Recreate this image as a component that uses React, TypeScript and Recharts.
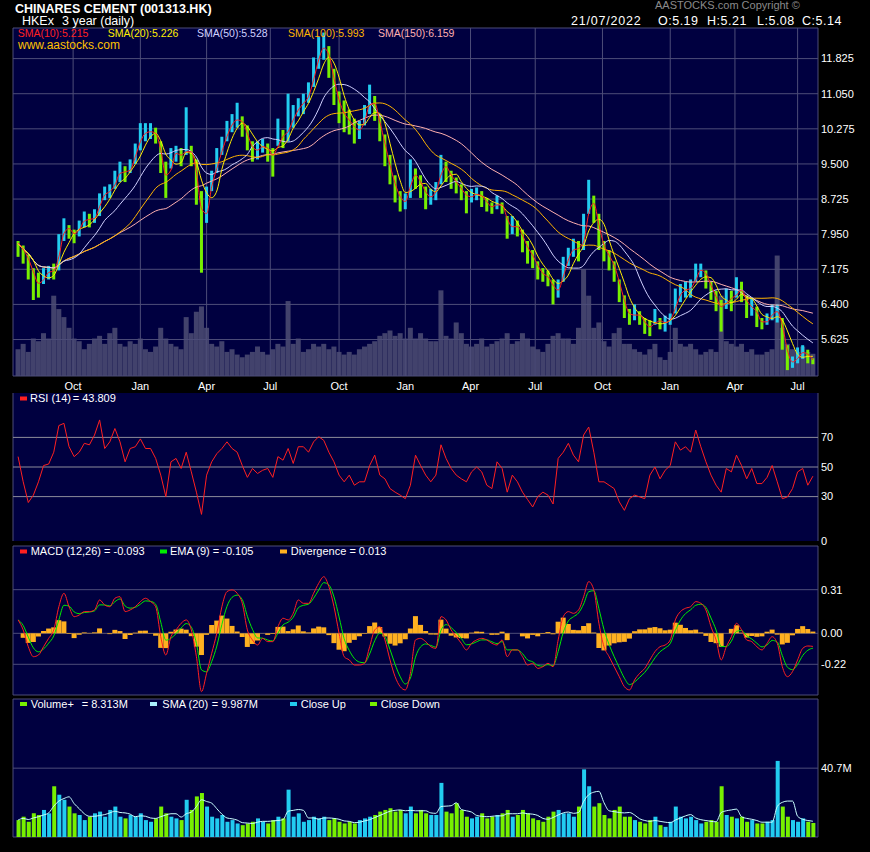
import React from 'react';
import {
  ComposedChart,
  Bar,
  Line,
  XAxis,
  YAxis,
  CartesianGrid,
  Cell,
  ReferenceLine,
} from 'recharts';

const FONT = '"Liberation Sans", Arial, Helvetica, sans-serif';
const NAVY = '#000040';
const GRID = '#4d4d78';
const LEVEL = '#8c8c9a';
const UP = '#22ccf0';
const DOWN = '#77f000';

// weekly samples, week of 22/07/2019 .. 21/07/2022
const CLOSE = [
  7.75, 7.49, 7.34, 6.9, 6.83, 7.05, 7.16, 7.12, 7.78, 8.15,
  8.0, 7.93, 8.15, 8.33, 8.22, 8.37, 8.74, 8.89, 8.89, 9.18,
  9.4, 9.25, 9.47, 9.84, 10.14, 10.21, 10.21, 10.14, 9.48, 9.03,
  9.7, 9.77, 9.62, 9.92, 9.62, 9.03, 8.0, 8.81, 9.18, 9.62,
  9.92, 10.29, 10.43, 10.51, 10.36, 9.99, 9.77, 9.84, 9.92, 9.77,
  9.62, 10.14, 10.07, 10.36, 10.58, 10.8, 10.87, 11.1, 11.61, 11.98,
  12.13, 11.69, 11.1, 10.73, 10.51, 10.43, 10.21, 10.29, 10.58, 11.02,
  10.65, 10.21, 9.7, 9.25, 8.89, 8.67, 8.67, 9.33, 9.18, 9.03,
  8.74, 8.81, 8.96, 9.55, 9.33, 9.18, 9.03, 8.89, 8.74, 8.81,
  8.85, 8.74, 8.59, 8.52, 8.67, 8.52, 8.08, 8.15, 8.08, 7.78,
  7.56, 7.41, 7.12, 7.05, 6.97, 6.68, 6.75, 7.27, 7.49, 7.71,
  7.56, 8.0, 8.81, 8.45, 7.86, 7.56, 7.41, 7.12, 6.68, 6.31,
  6.09, 6.24, 6.09, 5.94, 5.87, 6.09, 5.98, 6.02, 6.09, 6.53,
  6.68, 6.75, 6.75, 7.12, 7.19, 6.97, 6.68, 6.46, 6.24, 6.6,
  6.46, 6.75, 6.68, 6.31, 6.38, 6.09, 5.94, 6.09, 6.24, 6.24,
  5.65, 5.13, 5.13, 5.28, 5.39, 5.21, 5.14,
];

const HIGH = [
  7.8, 7.7, 7.5, 7.2, 7.1, 7.2, 7.25, 7.3, 7.95, 8.3,
  8.15, 8.05, 8.25, 8.45, 8.4, 8.5, 8.85, 9.0, 9.05, 9.35,
  9.55, 9.45, 9.6, 9.95, 10.4, 10.4, 10.4, 10.3, 10.0, 9.55,
  9.85, 9.9, 9.85, 10.75, 9.9, 9.6, 8.9, 9.0, 9.35, 9.85,
  10.1, 10.45, 10.6, 10.85, 10.55, 10.35, 10.0, 10.0, 10.05, 9.95,
  9.85, 10.5, 10.25, 11.05, 10.8, 10.95, 11.05, 11.3, 11.85, 12.3,
  12.4, 12.1, 11.6, 11.1, 10.9, 10.7, 10.5, 10.45, 10.8, 11.25,
  11.0, 10.6, 10.15, 9.7, 9.25, 8.9, 8.85, 9.6, 9.4, 9.25,
  9.0, 8.95, 9.1, 9.7, 9.55, 9.35, 9.2, 9.05, 8.9, 8.95,
  8.98, 8.9, 8.75, 8.65, 8.8, 8.65, 8.35, 8.35, 8.25, 8.05,
  7.8, 7.6, 7.35, 7.2, 7.15, 6.95, 6.95, 7.45, 7.65, 7.85,
  7.8, 8.4, 9.15, 8.8, 8.4, 7.8, 7.6, 7.35, 6.95, 6.6,
  6.3, 6.4, 6.25, 6.1, 6.05, 6.3, 6.1, 6.15, 6.2, 6.75,
  6.85, 6.9, 6.95, 7.3, 7.3, 7.15, 6.9, 6.7, 6.5, 6.75,
  6.7, 7.0, 6.9, 6.6, 6.55, 6.35, 6.1, 6.2, 6.4, 6.4,
  6.1, 5.5, 5.25, 5.45, 5.5, 5.4, 5.21,
];

const LOW = [
  7.45, 7.3, 6.95, 6.5, 6.55, 6.85, 6.95, 6.95, 7.15, 7.8,
  7.85, 7.75, 7.9, 8.1, 8.1, 8.2, 8.35, 8.7, 8.75, 8.95,
  9.1, 9.1, 9.3, 9.5, 9.8, 10.0, 10.05, 9.95, 9.3, 8.75,
  9.4, 9.55, 9.45, 9.7, 9.45, 8.6, 7.1, 8.2, 8.9, 9.3,
  9.7, 10.0, 10.2, 10.3, 10.1, 9.8, 9.55, 9.6, 9.75, 9.55,
  9.22, 9.9, 9.85, 10.0, 10.3, 10.55, 10.6, 10.85, 11.2, 11.6,
  11.8, 11.4, 10.8, 10.4, 10.2, 10.15, 9.95, 10.05, 10.35, 10.6,
  10.45, 10.0, 9.45, 9.05, 8.65, 8.45, 8.5, 8.75, 8.95, 8.75,
  8.5, 8.6, 8.7, 9.05, 9.1, 8.95, 8.85, 8.7, 8.41, 8.65,
  8.7, 8.55, 8.45, 8.4, 8.5, 8.4, 7.85, 7.95, 7.9, 7.55,
  7.3, 7.2, 6.95, 6.9, 6.8, 6.4, 6.55, 6.9, 7.25, 7.45,
  7.35, 7.6, 8.4, 8.2, 7.6, 7.35, 7.15, 6.9, 6.45, 6.1,
  5.95, 6.05, 5.95, 5.75, 5.7, 5.95, 5.85, 5.8, 5.95, 6.2,
  6.45, 6.55, 6.55, 6.9, 7.0, 6.75, 6.5, 6.25, 5.8, 6.3,
  6.25, 6.55, 6.45, 6.1, 6.15, 5.9, 5.85, 5.95, 6.05, 6.0,
  5.4, 4.95, 5.0, 5.1, 5.2, 5.1, 5.08,
];

// typical daily volume of the week, millions of shares
const VOLUME = [
  10, 12, 9, 14, 13, 16, 14, 30, 25, 22,
  18, 14, 13, 10, 12, 14, 15, 12, 16, 18,
  12, 11, 13, 12, 14, 10, 9, 11, 18, 14,
  12, 11, 10, 22, 16, 24, 26, 18, 12, 11,
  13, 9, 10, 8, 7, 8, 9, 11, 9, 8,
  10, 12, 11, 28, 12, 14, 9, 10, 12, 11,
  12, 10, 11, 9, 8, 9, 8, 10, 11, 12,
  13, 15, 16, 17, 15, 16, 14, 18, 14, 16,
  14, 13, 13, 32, 15, 14, 20, 16, 12, 11,
  12, 14, 11, 12, 13, 14, 16, 12, 13, 16,
  14, 11, 10, 9, 12, 15, 16, 14, 14, 12,
  18, 40, 30, 18, 20, 13, 11, 16, 18, 12,
  12, 10, 9, 8, 10, 12, 7, 6, 9, 18,
  12, 11, 12, 10, 8, 9, 10, 9, 30, 13,
  12, 11, 12, 9, 10, 8, 8, 9, 10, 45,
  18, 12, 10, 9, 11, 9, 8.3,
];

const RSI = [
  57, 40, 26, 31, 40, 51, 52, 60, 78, 79.5,
  63.7, 57, 60, 66, 65, 71.6, 81.8, 62.5, 67, 76,
  67, 53.5, 62.5, 63.7, 69, 62.5, 62.5, 55.8, 44.5, 30,
  53.5, 55.8, 49, 60, 46.7, 33, 18, 44.5, 53.5, 59,
  62.5, 67, 62.5, 60, 51, 43, 49, 45.6, 47.8, 49,
  43, 57, 54.6, 62.5, 52.4, 63.7, 63.7, 60, 67, 70.5,
  68, 60, 53.5, 44.5, 40, 44.5, 37.7, 40, 40, 51,
  58, 44.5, 42, 35.4, 33, 31, 28.6, 37.7, 58, 51,
  44.5, 40, 44.5, 65, 55.8, 49, 44.5, 42, 40, 46.7,
  50, 46.7, 37.7, 35.4, 53.5, 49, 33, 44.5, 40, 33,
  28, 23, 30, 33, 31, 25, 55.8, 60, 66, 58,
  53.5, 71.6, 77, 60, 40, 40, 37.7, 35.4, 26.4, 20.7,
  28.6, 31, 29.8, 28.6, 44.5, 50, 42, 47.8, 51, 67,
  61.4, 63.7, 60, 75, 63.7, 53.5, 44.5, 37.7, 33, 49,
  46.7, 58, 51, 42, 49, 38.8, 38.8, 43, 51, 40,
  28.6, 29.8, 35.4, 46.7, 49, 37.7, 43.8,
];

const MACD = [
  0.095, 0.024, -0.095, -0.166, -0.154, -0.095, -0.036, 0.024, 0.189, 0.284,
  0.189, 0.118, 0.13, 0.154, 0.154, 0.166, 0.237, 0.201, 0.189, 0.249,
  0.26, 0.154, 0.166, 0.189, 0.225, 0.249, 0.225, 0.189, -0.024, -0.154,
  -0.024, 0.024, 0.071, 0.095, 0.024, -0.166, -0.414, -0.284, -0.142, 0,
  0.189, 0.296, 0.308, 0.284, 0.213, 0.024, -0.047, -0.083, -0.036, -0.059,
  -0.059, 0.047, 0.107, 0.095, 0.142, 0.237, 0.213, 0.213, 0.284, 0.355,
  0.402, 0.331, 0.189, 0, -0.166, -0.189, -0.225, -0.225, -0.213, -0.095,
  0.024, 0.047, -0.047, -0.189, -0.308, -0.379, -0.402, -0.284, -0.047, -0.036,
  -0.059, -0.095, -0.107, 0.118, 0.095, 0.024, -0.024, -0.071, -0.118, -0.071,
  -0.047, -0.036, -0.047, -0.071, -0.083, -0.047, -0.166, -0.118, -0.118, -0.166,
  -0.225, -0.213, -0.249, -0.237, -0.213, -0.237, -0.047, 0.118, 0.154, 0.142,
  0.166, 0.26, 0.367, 0.308, 0.071, -0.095, -0.166, -0.237, -0.308, -0.379,
  -0.402, -0.331, -0.284, -0.249, -0.189, -0.13, -0.095, -0.083, -0.047, 0.095,
  0.154, 0.178, 0.189, 0.225, 0.213, 0.166, 0.047, -0.047, -0.189, -0.095,
  -0.024, 0.071, 0.024, -0.047, -0.059, -0.095, -0.118, -0.071, -0.024, -0.071,
  -0.237, -0.308, -0.272, -0.189, -0.107, -0.09, -0.093,
];

const TICK_POS = [10.8, 24, 37, 49.5, 63, 76, 88.8, 101.5, 114.7, 128, 140.7, 153];
const TICK_LABELS = ['Oct', 'Jan', 'Apr', 'Jul', 'Oct', 'Jan', 'Apr', 'Jul', 'Oct', 'Jan', 'Apr', 'Jul'];
const PRICE_TICKS = [5.625, 6.4, 7.175, 7.95, 8.725, 9.5, 10.275, 11.05, 11.825];
const RSI_TICKS = [0, 30, 50, 70];
const MACD_TICKS = [-0.22, 0, 0.31];
const VOL_TICKS = [40.7];

const sma = (src: number[], n: number) =>
  src.map((_, i) => {
    const part = src.slice(Math.max(0, i - n + 1), i + 1);
    return part.reduce((a, b) => a + b, 0) / part.length;
  });

const ema = (src: number[], k: number) => {
  const out: number[] = [];
  src.forEach((v, i) => out.push(i === 0 ? v : out[i - 1] + k * (v - out[i - 1])));
  return out;
};

// daily periods expressed in weeks
const s10 = sma(CLOSE, 2);
const s20 = sma(CLOSE, 4);
const s50 = sma(CLOSE, 10);
const s100 = sma(CLOSE, 20);
const s150 = sma(CLOSE, 30);
const signal = ema(MACD, 0.55);
const volAvg = sma(VOLUME, 4);

const data = CLOSE.map((c, i) => ({
  i,
  range: [LOW[i], HIGH[i]],
  up: i > 0 && c >= CLOSE[i - 1],
  vol: VOLUME[i],
  volAvg: volAvg[i],
  s10: s10[i],
  s20: s20[i],
  s50: s50[i],
  s100: s100[i],
  s150: s150[i],
  rsi: RSI[i],
  macd: MACD[i],
  ema: signal[i],
  div: MACD[i] - signal[i],
}));

const W = 870;
const MARGIN_X = { left: 13, right: 0 };

const XTick = (p: any) => {
  const idx = TICK_POS.indexOf(p.payload.value);
  return (
    <text x={p.x} y={p.y + 14} fill="#fff" fontSize={11} fontFamily={FONT} textAnchor="middle">
      {TICK_LABELS[idx]}
    </text>
  );
};

const yTick = (fmt: (v: number) => string) => (p: any) => (
  <text x={p.x + 3} y={p.y} dy="0.35em" fill="#fff" fontSize={11} fontFamily={FONT}>
    {fmt(p.payload.value)}
  </text>
);

const hiddenX = (
  <XAxis
    type="number"
    dataKey="i"
    domain={[-1, 157]}
    ticks={TICK_POS}
    interval={0}
    height={0}
    tick={false}
    tickSize={0}
    axisLine={false}
    tickLine={false}
  />
);

const Marker = ({ x, y, color }: { x: number; y: number; color: string }) => (
  <rect x={x} y={y} width={7} height={4} fill={color} />
);

const T = ({ x, y, color = '#fff', size = 11, bold = false, spacing = 0, children }: any) => (
  <text
    x={x}
    y={y}
    fill={color}
    fontSize={size}
    fontFamily={FONT}
    fontWeight={bold ? 'bold' : 'normal'}
    letterSpacing={spacing}
  >
    {children}
  </text>
);

export default function App() {
  return (
    <div style={{ position: 'fixed', left: 0, top: 0, width: W, height: 852, background: '#000', overflow: 'hidden' }}>
      {/* price panel: background + shaded volume */}
      <div style={{ position: 'absolute', left: 0, top: 0 }}>
        <ComposedChart width={W} height={393} data={data} margin={{ top: 28, bottom: 0, ...MARGIN_X }}>
          <CartesianGrid fill={NAVY} horizontal={false} vertical={false} />
          <XAxis type="number" dataKey="i" domain={[-1, 157]} ticks={TICK_POS} height={17} tick={false} axisLine={false} tickLine={false} />
          <YAxis orientation="right" width={52} domain={[0, 130]} tick={false} axisLine={false} tickLine={false} />
          <Bar dataKey="vol" fill="#42426c" barSize={5} isAnimationActive={false} />
        </ComposedChart>
      </div>

      {/* price panel: grid, candles, moving averages */}
      <div style={{ position: 'absolute', left: 0, top: 0 }}>
        <ComposedChart width={W} height={393} data={data} margin={{ top: 28, bottom: 0, ...MARGIN_X }}>
          <CartesianGrid stroke={GRID} strokeWidth={1} />
          <XAxis
            type="number"
            dataKey="i"
            domain={[-1, 157]}
            ticks={TICK_POS}
            interval={0}
            height={17}
            tick={<XTick />}
            tickSize={0}
            tickMargin={0}
            axisLine={false}
            tickLine={false}
          />
          <YAxis
            orientation="right"
            width={52}
            domain={[4.82, 12.5]}
            ticks={PRICE_TICKS}
            interval={0}
            tick={yTick((v) => v.toFixed(3))}
            tickSize={0}
            tickMargin={0}
            axisLine={false}
            tickLine={false}
          />
          <Bar dataKey="range" barSize={3} isAnimationActive={false}>
            {data.map((d) => (
              <Cell key={d.i} fill={d.up ? UP : DOWN} />
            ))}
          </Bar>
          <Line dataKey="s150" type="monotone" stroke="#ffb0b0" strokeWidth={1} dot={false} isAnimationActive={false} />
          <Line dataKey="s100" type="monotone" stroke="#ffb400" strokeWidth={1} dot={false} isAnimationActive={false} />
          <Line dataKey="s50" type="monotone" stroke="#d0d0ff" strokeWidth={1} dot={false} isAnimationActive={false} />
          <Line dataKey="s20" type="monotone" stroke="#ffee00" strokeWidth={1} dot={false} isAnimationActive={false} />
          <Line dataKey="s10" type="monotone" stroke="#ff2020" strokeWidth={1} dot={false} isAnimationActive={false} />
        </ComposedChart>
      </div>

      {/* RSI */}
      <div style={{ position: 'absolute', left: 0, top: 385 }}>
        <ComposedChart width={W} height={165} data={data} margin={{ top: 8, bottom: 9, ...MARGIN_X }}>
          <CartesianGrid fill={NAVY} stroke={GRID} horizontal={false} />
          {hiddenX}
          <YAxis
            orientation="right"
            width={52}
            domain={[0, 100]}
            ticks={RSI_TICKS}
            interval={0}
            tick={yTick((v) => String(v))}
            tickSize={0}
            tickMargin={0}
            axisLine={false}
            tickLine={false}
          />
          <ReferenceLine y={70} stroke={LEVEL} />
          <ReferenceLine y={50} stroke={LEVEL} />
          <ReferenceLine y={30} stroke={LEVEL} />
          <Line dataKey="rsi" type="linear" stroke="#ff2020" strokeWidth={1} dot={false} isAnimationActive={false} />
        </ComposedChart>
      </div>

      {/* MACD */}
      <div style={{ position: 'absolute', left: 0, top: 540 }}>
        <ComposedChart width={W} height={160} data={data} margin={{ top: 6, bottom: 5, ...MARGIN_X }}>
          <CartesianGrid fill={NAVY} stroke={GRID} />
          {hiddenX}
          <YAxis
            orientation="right"
            width={52}
            domain={[-0.438, 0.62]}
            ticks={MACD_TICKS}
            interval={0}
            tick={yTick((v) => v.toFixed(2))}
            tickSize={0}
            tickMargin={0}
            axisLine={false}
            tickLine={false}
          />
          <Bar dataKey="div" fill="#ffb020" barSize={5} isAnimationActive={false} />
          <Line dataKey="ema" type="monotone" stroke="#00ee00" strokeWidth={1} dot={false} isAnimationActive={false} />
          <Line dataKey="macd" type="monotone" stroke="#ff2020" strokeWidth={1} dot={false} isAnimationActive={false} />
        </ComposedChart>
      </div>

      {/* Volume */}
      <div style={{ position: 'absolute', left: 0, top: 695 }}>
        <ComposedChart width={W} height={157} data={data} margin={{ top: 4, bottom: 15, ...MARGIN_X }}>
          <CartesianGrid fill={NAVY} stroke={GRID} />
          {hiddenX}
          <YAxis
            orientation="right"
            width={52}
            domain={[0, 81.6]}
            ticks={VOL_TICKS}
            interval={0}
            tick={yTick((v) => v + 'M')}
            tickSize={0}
            tickMargin={0}
            axisLine={false}
            tickLine={false}
          />
          <Bar dataKey="vol" barSize={4} isAnimationActive={false}>
            {data.map((d) => (
              <Cell key={d.i} fill={d.up ? UP : DOWN} />
            ))}
          </Bar>
          <Line dataKey="volAvg" type="monotone" stroke="#c8ffff" strokeWidth={1} dot={false} isAnimationActive={false} />
        </ComposedChart>
      </div>

      {/* titles and legends */}
      <svg width={W} height={852} style={{ position: 'absolute', left: 0, top: 0, pointerEvents: 'none' }}>
        <T x={655} y={9} color="#8a8a8a">AASTOCKS.com Copyright ©</T>
        <T x={15} y={12.5} size={12.5} bold>CHINARES CEMENT (001313.HK)</T>
        <T x={22} y={25} size={12.5}>HKEx</T>
        <T x={62} y={25} size={12.5}>3 year (daily)</T>
        <T x={571} y={25} size={12.5} spacing={0.8}>21/07/2022</T>
        <T x={658} y={25} size={12.5} spacing={0.5}>O:5.19</T>
        <T x={707} y={25} size={12.5} spacing={0.5}>H:5.21</T>
        <T x={757} y={25} size={12.5} spacing={0.5}>L:5.08</T>
        <T x={802} y={25} size={12.5} spacing={0.5}>C:5.14</T>

        <T x={17.7} y={36.5} size={10.5} color="#ff2020">SMA(10):5.215</T>
        <T x={107.7} y={36.5} size={10.5} color="#ffee00">SMA(20):5.226</T>
        <T x={197} y={36.5} size={10.5} color="#d0d0ff">SMA(50):5.528</T>
        <T x={288} y={36.5} size={10.5} color="#ffb400">SMA(100):5.993</T>
        <T x={378} y={36.5} size={10.5} color="#ffb0b0">SMA(150):6.159</T>
        <T x={18} y={49} size={12} color="#ffc000">www.aastocks.com</T>

        <Marker x={20} y={396.5} color="#ff2020" />
        <T x={30} y={401.5}>RSI (14)</T>
        <T x={72.7} y={401.5}>= 43.809</T>

        <Marker x={20} y={549.5} color="#ff2020" />
        <T x={30.7} y={555}>MACD (12,26) = -0.093</T>
        <Marker x={160} y={549.5} color="#00ee00" />
        <T x={170} y={555}>EMA (9) = -0.105</T>
        <Marker x={280} y={549.5} color="#ffb020" />
        <T x={290.7} y={555}>Divergence = 0.013</T>

        <Marker x={20} y={702} color={DOWN} />
        <T x={30.7} y={707.5}>Volume+</T>
        <T x={81.7} y={707.5}>= 8.313M</T>
        <Marker x={150} y={702} color="#aaf0ff" />
        <T x={162.3} y={707.5}>SMA (20)</T>
        <T x={211.7} y={707.5}>= 9.987M</T>
        <Marker x={290} y={702} color={UP} />
        <T x={300.7} y={707.5}>Close Up</T>
        <Marker x={370} y={702} color={DOWN} />
        <T x={380.7} y={707.5}>Close Down</T>
      </svg>
    </div>
  );
}
